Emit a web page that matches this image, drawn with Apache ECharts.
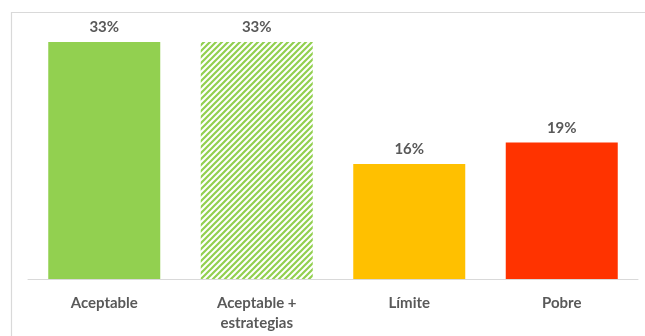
<!DOCTYPE html>
<html><head><meta charset="utf-8">
<script src="https://cdn.jsdelivr.net/npm/echarts@6/dist/echarts.min.js"></script>
<style>html,body{margin:0;padding:0;background:#fff}#c{width:645px;height:336px}</style>
</head><body><div id="c"></div>
<script>
const categories = ['Aceptable', 'Aceptable +\nestrategias', 'Límite', 'Pobre'];
const values = [33, 33, 16, 19];
const colors = ['#92D050', 'hatch', '#FFC000', '#FF3300'];

function hatch() {
  const c = document.createElement('canvas');
  const s = 6;
  c.width = s; c.height = s;
  const g = c.getContext('2d');
  g.fillStyle = '#fff'; g.fillRect(0, 0, s, s);
  g.strokeStyle = '#92D050'; g.lineWidth = 2.2;
  g.beginPath();
  g.moveTo(-1, s + 1); g.lineTo(s + 1, -1);
  g.moveTo(-1, 1); g.lineTo(1, -1);
  g.moveTo(s - 1, s + 1); g.lineTo(s + 1, s - 1);
  g.stroke();
  return { image: c, repeat: 'repeat' };
}

const chart = echarts.init(document.getElementById('c'));
const font = 'Lato, "Open Sans", sans-serif';
chart.setOption({
  animation: false,
  graphic: [{
    type: 'polyline', silent: true, z: 0,
    shape: { points: [[11.5, 336], [11.5, 12.5], [645, 12.5]] },
    style: { stroke: '#d9d9d9', lineWidth: 1.2, fill: null }
  }],
  grid: { left: 28, right: 7, top: 42, bottom: 57 },
  xAxis: {
    type: 'category', data: categories,
    axisLine: { lineStyle: { color: '#d9d9d9', width: 1 } },
    axisTick: { show: false },
    axisLabel: { color: '#595959', fontSize: 15, fontWeight: 'bold', fontFamily: font, margin: 14, lineHeight: 20 }
  },
  yAxis: { type: 'value', min: 0, max: 33, show: false, splitLine: { show: false } },
  series: [{
    type: 'bar', barWidth: 112,
    data: values.map((v, i) => ({
      value: v,
      itemStyle: { color: colors[i] === 'hatch' ? hatch() : colors[i] }
    })),
    label: {
      show: true, position: 'top', distance: 7,
      formatter: p => p.value + '%',
      color: '#595959', fontSize: 15, fontWeight: 'bold', fontFamily: font
    }
  }]
});
</script></body></html>
